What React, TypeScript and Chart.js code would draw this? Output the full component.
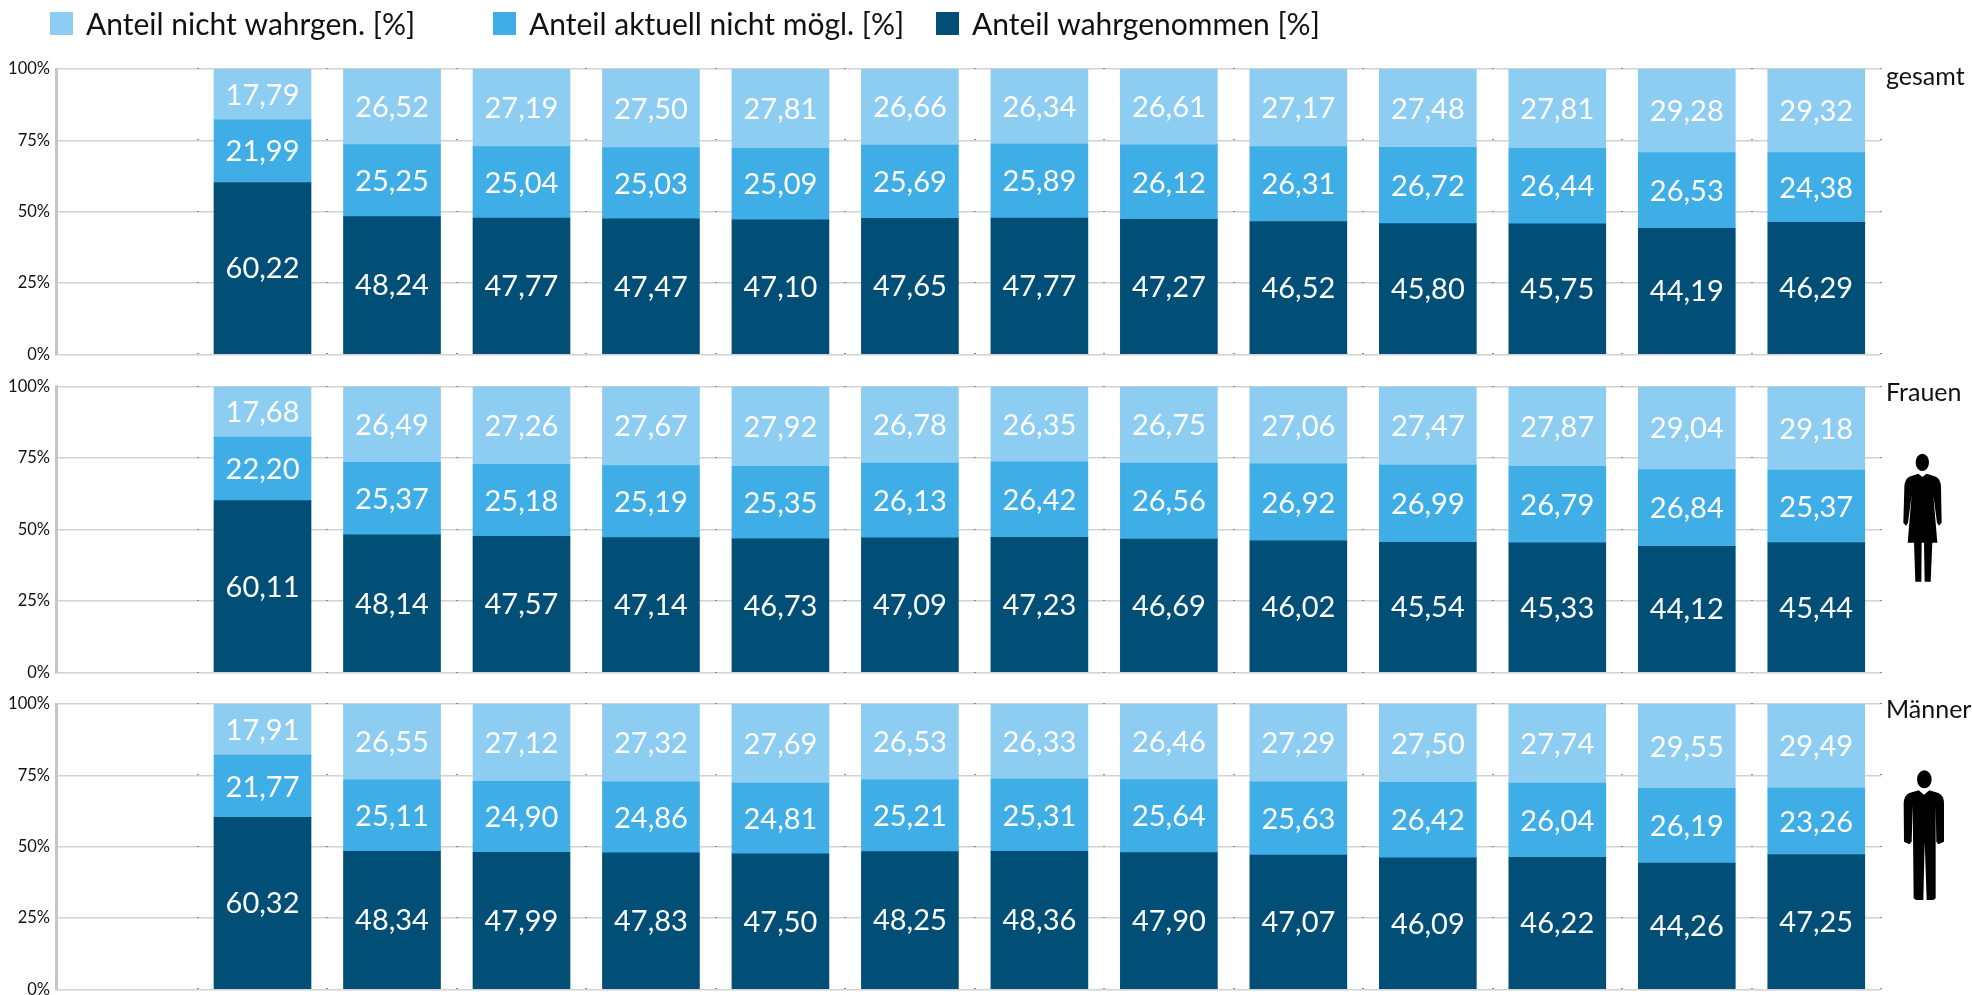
import React, { useEffect, useRef } from "react";
import { Chart, registerables } from "chart.js";

Chart.register(...registerables);

const periods = ["P1", "P2", "P3", "P4", "P5", "P6", "P7", "P8", "P9", "P10", "P11", "P12", "P13"];
const seriesNames = ["Anteil nicht wahrgen. [%]", "Anteil aktuell nicht mögl. [%]", "Anteil wahrgenommen [%]"];
const seriesColors = ["#8ccdf1", "#3faee6", "#014f76"];
const yTicks = [0, 25, 50, 75, 100];

const gesamtNicht = [17.79, 26.52, 27.19, 27.5, 27.81, 26.66, 26.34, 26.61, 27.17, 27.48, 27.81, 29.28, 29.32];
const gesamtAktuell = [21.99, 25.25, 25.04, 25.03, 25.09, 25.69, 25.89, 26.12, 26.31, 26.72, 26.44, 26.53, 24.38];
const gesamtWahr = [60.22, 48.24, 47.77, 47.47, 47.1, 47.65, 47.77, 47.27, 46.52, 45.8, 45.75, 44.19, 46.29];

const frauenNicht = [17.68, 26.49, 27.26, 27.67, 27.92, 26.78, 26.35, 26.75, 27.06, 27.47, 27.87, 29.04, 29.18];
const frauenAktuell = [22.2, 25.37, 25.18, 25.19, 25.35, 26.13, 26.42, 26.56, 26.92, 26.99, 26.79, 26.84, 25.37];
const frauenWahr = [60.11, 48.14, 47.57, 47.14, 46.73, 47.09, 47.23, 46.69, 46.02, 45.54, 45.33, 44.12, 45.44];

const maennerNicht = [17.91, 26.55, 27.12, 27.32, 27.69, 26.53, 26.33, 26.46, 27.29, 27.5, 27.74, 29.55, 29.49];
const maennerAktuell = [21.77, 25.11, 24.9, 24.86, 24.81, 25.21, 25.31, 25.64, 25.63, 26.42, 26.04, 26.19, 23.26];
const maennerWahr = [60.32, 48.34, 47.99, 47.83, 47.5, 48.25, 48.36, 47.9, 47.07, 46.09, 46.22, 44.26, 47.25];

const FONT = "Lato";

const panels = [
  { title: "gesamt", top: 0, plotTop: 69, plotBottom: 354.3, titleBase: 85, legend: true, nicht: gesamtNicht, aktuell: gesamtAktuell, wahr: gesamtWahr },
  { title: "Frauen", top: 364, plotTop: 386.5, plotBottom: 672.5, titleBase: 401, legend: false, nicht: frauenNicht, aktuell: frauenAktuell, wahr: frauenWahr },
  { title: "Männer", top: 684, plotTop: 704, plotBottom: 989.3, titleBase: 718, legend: false, nicht: maennerNicht, aktuell: maennerAktuell, wahr: maennerWahr },
];

const BOTTOM_ROOM = 30;

const decorations = {
  id: "decorations",
  beforeDatasetsDraw(chart: any) {
    const { ctx, scales } = chart;
    ctx.save();
    ctx.fillStyle = "#8a8a8a";
    for (const t of yTicks) {
      const y = scales.y.getPixelForValue(t);
      for (let i = -1; i < periods.length; i++) {
        const x = scales.x.getPixelForValue(i + 0.5);
        ctx.fillRect(Math.round(x) - 1, Math.round(y) - 1, 2, 1);
      }
    }
    ctx.restore();
  },
  afterDatasetsDraw(chart: any, _a: any, opts: any) {
    const { ctx } = chart;
    ctx.save();
    // value labels
    ctx.fillStyle = "#fff";
    ctx.font = `29px ${FONT}`;
    ctx.textAlign = "center";
    ctx.textBaseline = "middle";
    chart.data.datasets.forEach((ds: any, d: number) => {
      chart.getDatasetMeta(d).data.forEach((bar: any, i: number) => {
        const v = ds.data[i].y;
        const mid = (bar.y + bar.base) / 2;
        ctx.fillText(v.toFixed(2).replace(".", ","), bar.x, mid + 1);
      });
    });
    // group title
    ctx.fillStyle = "#111";
    ctx.textAlign = "left";
    ctx.textBaseline = "alphabetic";
    ctx.font = `25px ${FONT}`;
    ctx.fillText(opts.title, 1886, opts.titleBase - opts.canvasTop);
    // legend
    if (opts.legend) {
      seriesNames.forEach((name, i) => {
        const x = 50 + i * 443;
        ctx.fillStyle = seriesColors[i];
        ctx.fillRect(x, 12, 23, 23);
        ctx.fillStyle = "#111";
        ctx.font = `30px ${FONT}`;
        ctx.fillText(name, x + 36, 35);
      });
    }
    ctx.restore();
  },
};

function Panel({ p }: { p: (typeof panels)[number] }) {
  const ref = useRef<HTMLCanvasElement>(null);
  const height = Math.ceil(p.plotBottom - p.top + BOTTOM_ROOM);
  useEffect(() => {
    const chart = new Chart(ref.current as HTMLCanvasElement, {
      type: "bar",
      plugins: [decorations],
      data: {
        datasets: [
          { label: seriesNames[2], backgroundColor: seriesColors[2], data: p.wahr.map((y, x) => ({ x, y })) },
          { label: seriesNames[1], backgroundColor: seriesColors[1], data: p.aktuell.map((y, x) => ({ x, y })) },
          { label: seriesNames[0], backgroundColor: seriesColors[0], data: p.nicht.map((y, x) => ({ x, y })) },
        ],
      },
      options: {
        animation: false,
        responsive: false,
        maintainAspectRatio: false,
        datasets: { bar: { barThickness: 97 } },
        layout: { padding: { top: p.plotTop - p.top, bottom: p.top + height - p.plotBottom, left: 0, right: 91 } },
        plugins: {
          legend: { display: false },
          tooltip: { enabled: false },
          decorations: { title: p.title, titleBase: p.titleBase, canvasTop: p.top, legend: p.legend },
        } as any,
        scales: {
          x: {
            type: "linear",
            display: false,
            offset: false,
            stacked: true,
            min: -1.595,
            max: 12.5,
          },
          y: {
            stacked: true,
            min: 0,
            max: 100,
            afterFit(s: any) { s.width = 56; },
            afterBuildTicks(s: any) { s.ticks = yTicks.map((value) => ({ value })); },
            ticks: {
              callback: (v: any) => `${v}%`,
              font: { family: FONT, size: 16.5 },
              color: "#111",
              padding: 6,
            },
            grid: { color: "#d2d2d2", lineWidth: 1.5, drawTicks: false },
            border: { color: "#c6c6c6", width: 3 },
          },
        },
      } as any,
    });
    return () => chart.destroy();
  }, []);
  return (
    <canvas
      ref={ref}
      width={1972}
      height={height}
      style={{ position: "absolute", left: 0, top: p.top, width: 1972, height, display: "block" }}
    />
  );
}

function Woman() {
  return (
    <svg viewBox="0 0 306 660" width={102} height={220} style={{ position: "absolute", left: 1870, top: 380 }}>
      <ellipse cx="157" cy="247" rx="20" ry="26" />
      <path d="M145 281 L157 291 L170 281 L198 290 Q212 296 213 322 L215 428 L207 437 L201 428 L190 345 L202 488 L113 488 L125 345 L114 428 L108 437 L100 428 L103 322 Q104 296 118 290 Z" />
      <path d="M132 486 L155 486 L154 605 L136 605 Z" />
      <path d="M162 486 L187 486 L182 605 L164 605 Z" />
    </svg>
  );
}

function Man() {
  return (
    <svg viewBox="0 0 306 660" width={102} height={220} style={{ position: "absolute", left: 1870, top: 690 }}>
      <ellipse cx="163" cy="268" rx="22" ry="27" />
      <path d="M146 301 L162 314 L178 301 L205 309 Q222 316 222 340 L222 455 L205 463 L199 455 L197 345 L197 625 L190 630 L170 630 L164 455 L160 630 L138 630 L131 625 L128 345 L125 455 L118 463 L102 455 L101 340 Q102 316 118 309 Z" />
    </svg>
  );
}

export default function App() {
  return (
    <div style={{ position: "absolute", left: 0, top: 0, width: 1972, height: 995, overflow: "hidden", background: "#fff" }}>
      {panels.map((p) => (
        <Panel key={p.title} p={p} />
      ))}
      <Woman />
      <Man />
    </div>
  );
}
